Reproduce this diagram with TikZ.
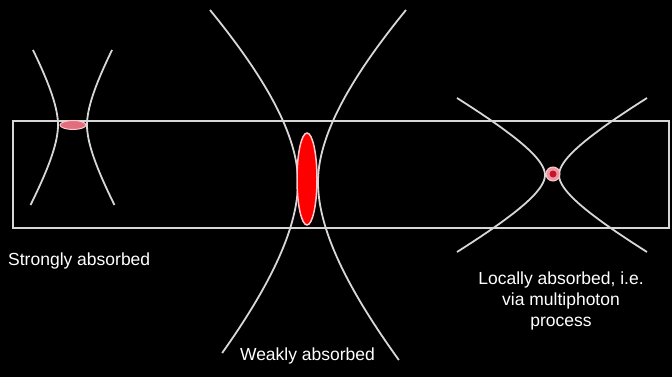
\documentclass[tikz,border=0pt]{standalone}
\usepackage{fontspec}
\setmainfont{Liberation Sans}
\definecolor{linegray}{RGB}{215,215,215}
\definecolor{pinkfill}{RGB}{225,110,125}
\definecolor{pinkedge}{RGB}{255,200,205}
\definecolor{dotred}{RGB}{200,20,40}
\begin{document}
\begin{tikzpicture}[x=1pt,y=-1pt,
  beam/.style={draw=linegray, line width=1.8pt},
  frame/.style={draw=linegray, line width=1.6pt},
  lbl/.style={text=white, font=\fontsize{17.5}{21}\selectfont, inner sep=0pt, align=center}]
\fill[black] (0,0) rectangle (672,377);
\useasboundingbox (0,0) rectangle (672,377);
% sample bar
\draw[frame] (13,121) rectangle (669,228);
% left beam: strongly absorbed
\draw[beam] plot[domain=-75:80, samples=60, variable=\t] ({72.5-(14.5+0.614*\t*(\t/(63+abs(\t))))}, {125+\t});
\draw[beam] plot[domain=-75:80, samples=60, variable=\t] ({72.5+(14.5+0.614*\t*(\t/(63+abs(\t))))}, {125+\t});
\filldraw[fill=pinkfill, draw=pinkedge, line width=1pt] (73,125) ellipse [x radius=13, y radius=4.5];
% middle beam: weakly absorbed
\draw[beam] plot[domain=-172:171, samples=90, variable=\t] ({308-(10+ifthenelse(\t>0,1.105,1.27)*\t*(\t/(255+abs(\t))))}, {182+\t});
\draw[beam] plot[domain=-172:178, samples=90, variable=\t] ({308+(10+ifthenelse(\t>0,1.105,1.27)*\t*(\t/(255+abs(\t))))}, {182+\t});
\filldraw[fill=red, draw=pinkedge, line width=1.5pt] (307,179) ellipse [x radius=10, y radius=46];
% right beam: locally absorbed
\draw[beam] plot[domain=-77:77, samples=70, variable=\t] ({552-(7+1.848*\t*(\t/(47.5+abs(\t))))}, {175+\t});
\draw[beam] plot[domain=-77:77, samples=70, variable=\t] ({552+(7+1.848*\t*(\t/(47.5+abs(\t))))}, {175+\t});
\filldraw[fill=pinkfill!70!white, draw=pinkedge, line width=1pt] (553,174) circle [radius=7];
\fill[dotred] (553,174) circle [radius=3.5];
% labels
\node[lbl, anchor=base west] (strong) at (8,265) {Strongly absorbed};
\node[lbl, anchor=base] (weak) at (307.5,360) {Weakly absorbed};
\node[lbl, anchor=base] (local1) at (561,284) {Locally absorbed, i.e.};
\node[lbl, anchor=base] (local2) at (561,305) {via multiphoton};
\node[lbl, anchor=base] (local3) at (561,326) {process};
\end{tikzpicture}
\end{document}
